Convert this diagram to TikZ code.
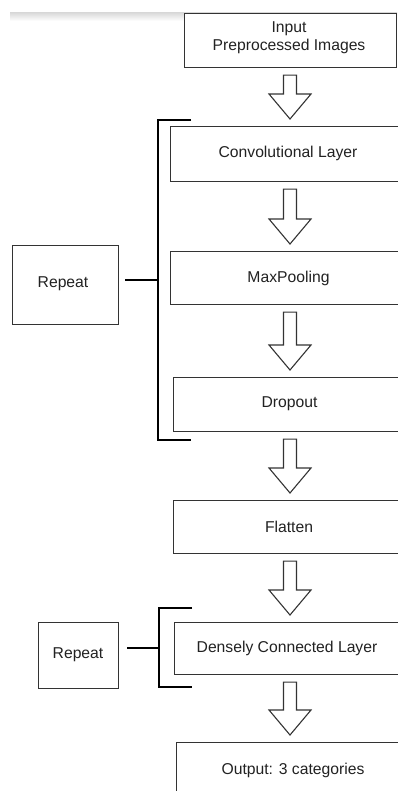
\documentclass[tikz,border=0pt]{standalone}
\usepackage{fontspec}
\setmainfont{Liberation Sans}
\usetikzlibrary{calc}
\definecolor{edge}{HTML}{333333}
\definecolor{ink}{HTML}{222222}
\tikzset{
  box/.style={draw=edge, line width=1.1pt, fill=white, anchor=north west, inner sep=0pt},
  lbl/.style={text=ink, font=\fontsize{15.7}{18}\selectfont, align=center, inner sep=0pt},
  brk/.style={draw=black, line width=2pt},
  blk/.style={draw=edge, line width=1.1pt, fill=white, line join=miter},
}
\newcommand\blockarrow[2]{%
  \path[blk] let \p1=(#1.south), \p2=(#2.north) in
    (283.5pt,\y1-7pt) -- (296.5pt,\y1-7pt) -- (296.5pt,\y2+32pt) -- (311pt,\y2+32pt)
    -- (290pt,\y2+7pt) -- (269pt,\y2+32pt) -- (283.5pt,\y2+32pt) -- cycle;}
\begin{document}
\begin{tikzpicture}[x=1pt,y=-1pt]
\useasboundingbox (0,0) rectangle (397,791);
% grey band at the top
\shade[top color=black!14, bottom color=white] (10,13) rectangle (397,21);
% boxes
\node[box, minimum width=212, minimum height=54] (input) at (184,13) {};
\node[lbl] (inputt) at (289,38) {Input\\Preprocessed Images};
\node[box, minimum width=240, minimum height=55] (conv) at (170,126) {};
\node[lbl] (convt) at (288,153.5) {Convolutional Layer};
\node[box, minimum width=240, minimum height=53] (pool) at (170,251) {};
\node[lbl] (poolt) at (288.5,278) {MaxPooling};
\node[box, minimum width=237, minimum height=54] (drop) at (173,377) {};
\node[lbl] (dropt) at (289.5,404) {Dropout};
\node[box, minimum width=237, minimum height=53] (flat) at (173,500) {};
\node[lbl] (flatt) at (289,527) {Flatten};
\node[box, minimum width=236, minimum height=52] (dense) at (174,622) {};
\node[lbl] (denset) at (287,648) {Densely Connected Layer};
\node[box, minimum width=234, minimum height=70] (out) at (176,742) {};
\node[lbl] (outt) at (293,770) {Output: 3 categories};
% repeat boxes
\node[box, minimum width=106, minimum height=79] (rep1) at (12,245) {};
\node[lbl] (rep1t) at (63,284) {Repeat};
\node[box, minimum width=80, minimum height=66] (rep2) at (38,622) {};
\node[lbl] (rep2t) at (78,655) {Repeat};
% block arrows
\blockarrow{input}{conv}
\blockarrow{conv}{pool}
\blockarrow{pool}{drop}
\blockarrow{drop}{flat}
\blockarrow{flat}{dense}
\blockarrow{dense}{out}
% brackets
\coordinate (b1t) at (191,120);
\coordinate (b1b) at (191,440);
\coordinate (b1m) at (125,280);
\draw[brk] (b1t) -- (158,120) -- (158,440) -- (b1b);
\draw[brk] (b1m) -- (158,280);
\coordinate (b2t) at (192,608);
\coordinate (b2b) at (192,687);
\coordinate (b2m) at (127,648);
\draw[brk] (b2t) -- (159,608) -- (159,687) -- (b2b);
\draw[brk] (b2m) -- (159,648);
\end{tikzpicture}
\end{document}
